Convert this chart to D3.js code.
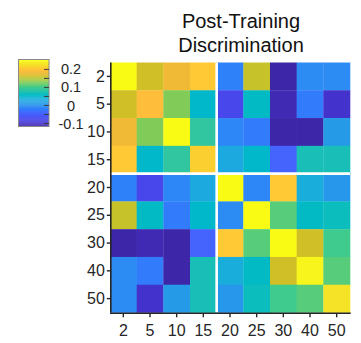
<!DOCTYPE html>
<html>
<head>
<meta charset="utf-8">
<script src="https://cdn.jsdelivr.net/npm/d3@7"></script>
<style>
  html, body { margin: 0; padding: 0; background: #fff; }
  svg { display: block; font-family: "Liberation Sans", Arial, sans-serif; }
</style>
</head>
<body>
<svg id="chart" width="361" height="343"></svg>
<script>
// Training set sizes used on both axes
const sizes = ["2", "5", "10", "15", "20", "25", "30", "40", "50"];

// Discrimination matrix, one row per y-axis size
const row2  = [0.255, 0.166, 0.181, 0.203, -0.017, 0.158, -0.113, -0.002, -0.005];
const row5  = [0.166, 0.192, 0.129, 0.054, -0.076, 0.062, -0.106, -0.020, -0.095];
const row10 = [0.181, 0.129, 0.255, 0.088, -0.009, -0.020, -0.117, -0.117, 0.013];
const row15 = [0.203, 0.054, 0.088, 0.214, 0.032, 0.054, -0.046, 0.073, 0.073];
const row20 = [-0.017, -0.076, -0.009, 0.032, 0.255, -0.009, 0.203, 0.036, 0.006];
const row25 = [0.158, 0.062, -0.020, 0.054, -0.005, 0.255, 0.110, 0.058, 0.065];
const row30 = [-0.113, -0.106, -0.117, -0.046, 0.203, 0.110, 0.255, 0.162, 0.099];
const row40 = [-0.002, -0.020, -0.117, 0.073, 0.036, 0.058, 0.162, 0.244, 0.110];
const row50 = [-0.005, -0.095, 0.013, 0.073, 0.006, 0.065, 0.099, 0.110, 0.229];
const rows = [row2, row5, row10, row15, row20, row25, row30, row40, row50];

// Colour limits and colorbar ticks
const colorLimits = [-0.117, 0.255];
const colorbarLabels = ["-0.1", "0", "0.1", "0.2"];
const colorbarTicks = [-0.1, -0.05, 0, 0.05, 0.1, 0.15, 0.2];

// Group boundary (between sizes 15 and 20)
const splitAt = "20";

// Parula colormap, 64 steps
const parula = [
  [0.2422,0.1504,0.6603],[0.2504,0.1650,0.7076],[0.2578,0.1818,0.7511],[0.2647,0.1978,0.7952],
  [0.2706,0.2147,0.8364],[0.2751,0.2342,0.8710],[0.2783,0.2559,0.8991],[0.2803,0.2782,0.9221],
  [0.2813,0.3006,0.9414],[0.2810,0.3228,0.9579],[0.2795,0.3447,0.9717],[0.2760,0.3667,0.9829],
  [0.2699,0.3892,0.9906],[0.2602,0.4123,0.9952],[0.2440,0.4358,0.9988],[0.2206,0.4603,0.9973],
  [0.1963,0.4847,0.9892],[0.1834,0.5074,0.9798],[0.1786,0.5289,0.9682],[0.1764,0.5499,0.9520],
  [0.1687,0.5703,0.9359],[0.1540,0.5902,0.9218],[0.1460,0.6091,0.9079],[0.1380,0.6276,0.8973],
  [0.1248,0.6459,0.8883],[0.1113,0.6635,0.8763],[0.0952,0.6798,0.8598],[0.0689,0.6948,0.8394],
  [0.0297,0.7082,0.8163],[0.0036,0.7203,0.7917],[0.0067,0.7312,0.7660],[0.0433,0.7411,0.7394],
  [0.0964,0.7500,0.7120],[0.1408,0.7584,0.6842],[0.1717,0.7670,0.6554],[0.1938,0.7758,0.6251],
  [0.2161,0.7843,0.5923],[0.2470,0.7918,0.5567],[0.2906,0.7973,0.5188],[0.3406,0.8008,0.4789],
  [0.3909,0.8029,0.4354],[0.4456,0.8024,0.3909],[0.5044,0.7993,0.3480],[0.5616,0.7942,0.3045],
  [0.6174,0.7876,0.2612],[0.6720,0.7793,0.2227],[0.7242,0.7698,0.1910],[0.7738,0.7598,0.1646],
  [0.8203,0.7498,0.1535],[0.8634,0.7406,0.1596],[0.9035,0.7330,0.1774],[0.9393,0.7288,0.2100],
  [0.9728,0.7298,0.2394],[0.9956,0.7434,0.2371],[0.9970,0.7659,0.2199],[0.9952,0.7893,0.2028],
  [0.9892,0.8136,0.1885],[0.9786,0.8386,0.1766],[0.9676,0.8639,0.1643],[0.9610,0.8890,0.1537],
  [0.9597,0.9135,0.1423],[0.9628,0.9373,0.1265],[0.9691,0.9606,0.1064],[0.9769,0.9839,0.0805]
].map(c => d3.rgb(c[0] * 255, c[1] * 255, c[2] * 255).formatHex());

const svg = d3.select("#chart");

const color = d3.scaleQuantize().domain(colorLimits).range(parula);

const x = d3.scaleBand().domain(sizes).range([110, 350]).padding(0);
const y = d3.scaleBand().domain(sizes).range([62.5, 312.5]).padding(0);

// Heatmap cells
const cells = [];
rows.forEach((r, i) => r.forEach((v, j) => cells.push({ row: sizes[i], col: sizes[j], v })));
svg.append("g").selectAll("rect").data(cells).join("rect")
  .attr("x", d => x(d.col))
  .attr("y", d => y(d.row))
  .attr("width", x.bandwidth() + 0.3)
  .attr("height", y.bandwidth() + 0.3)
  .attr("fill", d => color(Math.max(colorLimits[0], Math.min(colorLimits[1], d.v))));

// White separators between the two size groups
const sep = svg.append("g").attr("stroke", "#fff").attr("stroke-width", 2.6);
sep.append("line")
  .attr("x1", x(splitAt)).attr("x2", x(splitAt))
  .attr("y1", y.range()[0]).attr("y2", y.range()[1]);
sep.append("line")
  .attr("x1", x.range()[0]).attr("x2", x.range()[1])
  .attr("y1", y(splitAt)).attr("y2", y(splitAt));

// Axes
const axisColor = "#262626";
const gx = svg.append("g")
  .attr("transform", `translate(0,${y.range()[1] + 0.8})`)
  .call(d3.axisBottom(x).tickSize(4).tickSizeOuter(0).tickPadding(7));
const gy = svg.append("g")
  .attr("transform", `translate(${x.range()[0] + 0.8},0)`)
  .call(d3.axisLeft(y).tickSize(4).tickSizeOuter(0).tickPadding(2));
[gx, gy].forEach(g => {
  g.select(".domain").attr("stroke", axisColor).attr("stroke-width", 1.6);
  g.selectAll(".tick line").attr("stroke", axisColor).attr("stroke-width", 1.4);
  g.selectAll(".tick text").attr("fill", "#262626").style("font-size", "16px")
    .style("font-family", "'Liberation Sans', Arial, sans-serif");
});
gx.select(".domain").attr("d", `M${x.range()[0]},0H${x.range()[1] + 0.7}`);
gy.select(".domain").attr("d", `M0,${y.range()[0]}V${y.range()[1]}`);

// Colorbar
const cb = { x: 18.5, y: 59.5, w: 30.5, h: 67 };
const cbScale = d3.scaleLinear().domain(colorLimits).range([cb.y + cb.h, cb.y]);
const step = (colorLimits[1] - colorLimits[0]) / parula.length;
svg.append("g").selectAll("rect").data(parula).join("rect")
  .attr("x", cb.x)
  .attr("y", (c, i) => cbScale(colorLimits[0] + (i + 1) * step))
  .attr("width", cb.w)
  .attr("height", (c, i) => cbScale(colorLimits[0] + i * step) - cbScale(colorLimits[0] + (i + 1) * step) + 0.3)
  .attr("fill", c => c);
svg.append("rect")
  .attr("x", cb.x).attr("y", cb.y).attr("width", cb.w).attr("height", cb.h)
  .attr("fill", "none").attr("stroke", "#8a8a8a").attr("stroke-width", 1);
svg.append("g").selectAll("line").data(colorbarTicks).join("line")
  .attr("x1", cb.x + cb.w - 5).attr("x2", cb.x + cb.w)
  .attr("y1", d => cbScale(d)).attr("y2", d => cbScale(d))
  .attr("stroke", "#3a3a3a").attr("stroke-width", 1);
svg.append("g").selectAll("text").data(colorbarLabels).join("text")
  .attr("x", 71)
  .attr("y", d => cbScale(+d))
  .attr("dy", "0.35em")
  .attr("text-anchor", "middle")
  .attr("fill", "#262626")
  .style("font-size", "14.5px")
  .text(d => d);

// Title
const title = svg.append("text")
  .attr("x", 241).attr("text-anchor", "middle")
  .attr("fill", "#111")
  .style("font-size", "20px");
title.append("tspan").attr("x", 241).attr("y", 28).text("Post-Training");
title.append("tspan").attr("x", 241).attr("y", 51.5).text("Discrimination");
</script>
</body>
</html>
